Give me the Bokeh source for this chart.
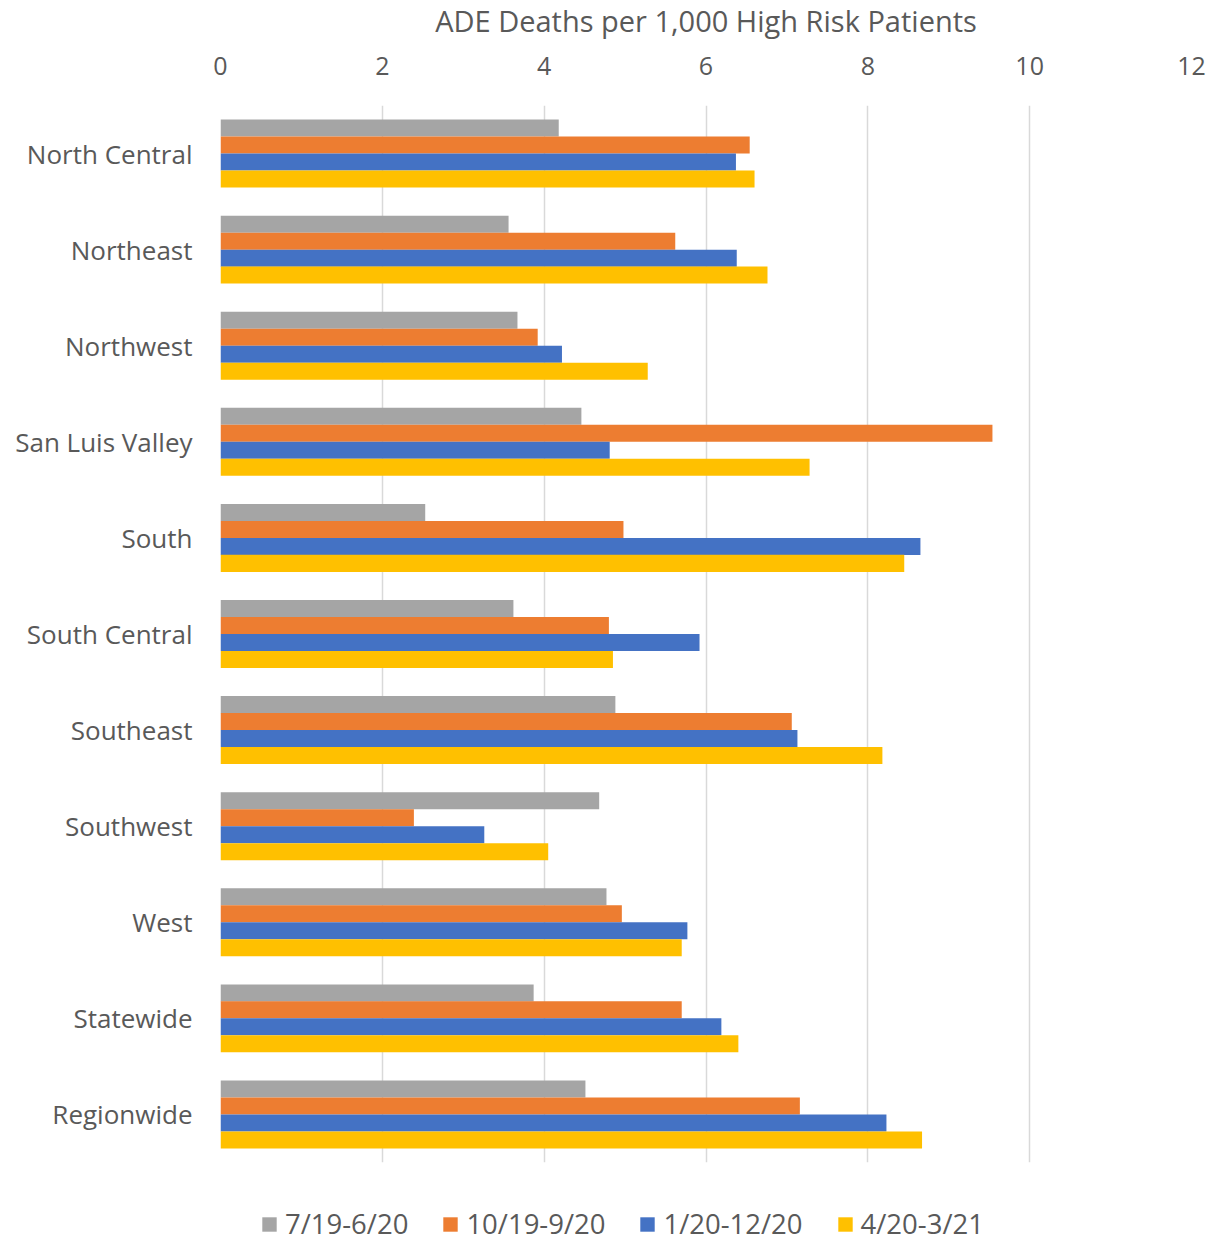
from bokeh.plotting import figure
from bokeh.models import FactorRange, Legend, LegendItem, FixedTicker, ColumnDataSource, Label
from bokeh.layouts import column
from bokeh.transform import dodge
from bokeh.embed import file_html
from bokeh.resources import INLINE

regions = ["North Central", "Northeast", "Northwest", "San Luis Valley", "South",
           "South Central", "Southeast", "Southwest", "West", "Statewide", "Regionwide"]
series_names = ["7/19-6/20", "10/19-9/20", "1/20-12/20", "4/20-3/21"]
s1 = [4.18, 3.56, 3.67, 4.46, 2.53, 3.62, 4.88, 4.68, 4.77, 3.87, 4.51]
s2 = [6.54, 5.62, 3.92, 9.54, 4.98, 4.80, 7.06, 2.39, 4.96, 5.70, 7.16]
s3 = [6.37, 6.38, 4.22, 4.81, 8.65, 5.92, 7.13, 3.26, 5.77, 6.19, 8.23]
s4 = [6.60, 6.76, 5.28, 7.28, 8.45, 4.85, 8.18, 4.05, 5.70, 6.40, 8.67]
x_ticks = [0, 2, 4, 6, 8, 10, 12]
axis_title = "ADE Deaths per 1,000 High Risk Patients"

colors = ["#A5A5A5", "#ED7D31", "#4472C4", "#FFC000"]
offsets = [0.265, 0.0885, -0.0885, -0.265]
FONT = "Open Sans"
TXT = "#595959"

src = ColumnDataSource(dict(region=regions, s1=s1, s2=s2, s3=s3, s4=s4))

# axis title strip (centred over the value axis)
tf = figure(width=1210, height=40, output_backend="svg", toolbar_location=None,
            x_range=(x_ticks[0], x_ticks[-1]), y_range=(0, 1), min_border=0)
tf.outline_line_color = None
tf.axis.visible = False
tf.grid.visible = False
tf.border_fill_color = "white"
tf.add_layout(Label(x=(x_ticks[0] + x_ticks[-1]) / 2, y=20, y_units="screen", text=axis_title,
                    text_font=FONT, text_font_size="29px", text_color=TXT,
                    text_align="center", text_baseline="middle"))

p = figure(width=1210, height=1148, output_backend="svg", toolbar_location=None,
           y_range=FactorRange(factors=list(reversed(regions))),
           x_range=(x_ticks[0], x_ticks[-1]), x_axis_location="above",
           min_border_left=220, min_border_right=19, min_border_top=65, min_border_bottom=26)
p.outline_line_color = None
p.background_fill_color = "white"
p.border_fill_color = "white"

for col, c, off in zip(["s1", "s2", "s3", "s4"], colors, offsets):
    p.hbar(y=dodge("region", off, range=p.y_range), left=0, right=col, height=0.177,
           source=src, fill_color=c, line_color=None)

xa = p.xaxis[0]
xa.ticker = FixedTicker(ticks=x_ticks)
xa.major_label_text_font = FONT
xa.major_label_text_font_size = "25px"
xa.major_label_text_color = TXT
xa.major_label_standoff = 25
xa.axis_line_color = None
xa.major_tick_line_color = None
xa.minor_tick_line_color = None

ya = p.yaxis[0]
ya.major_label_text_font = FONT
ya.major_label_text_font_size = "26px"
ya.major_label_text_color = TXT
ya.major_label_standoff = 22
ya.axis_line_color = None
ya.major_tick_line_color = None
ya.minor_tick_line_color = None

p.xgrid.grid_line_color = "#D9D9D9"
p.xgrid.grid_line_width = 1.5
p.ygrid.grid_line_color = None

# legend strip below the chart (proxy renderers are hidden; only their legend swatches show)
lg = figure(width=1210, height=54, output_backend="svg", toolbar_location=None,
            x_range=(0, 1), y_range=(0, 1), min_border=0)
lg.outline_line_color = None
lg.axis.visible = False
lg.grid.visible = False
lg.border_fill_color = "white"
lg_renderers = []
for vals, c in zip([s1, s2, s3, s4], colors):
    r = lg.hbar(y=0, left=0, right=vals, height=0.5, fill_color=c, line_color=None, visible=False)
    lg_renderers.append(r)

legend = Legend(items=[LegendItem(label=n, renderers=[r]) for n, r in zip(series_names, lg_renderers)],
                orientation="horizontal", location=(40, 0))
legend.label_text_font = FONT
legend.label_text_font_size = "27.5px"
legend.label_text_color = TXT
legend.glyph_width = 18
legend.glyph_height = 18
legend.label_height = 36
legend.label_standoff = 7
legend.spacing = 33
legend.padding = 0
legend.margin = 0
legend.border_line_color = None
legend.background_fill_alpha = 0
legend.inactive_fill_alpha = 0
lg.add_layout(legend, "center")

layout = column(tf, p, lg, spacing=0)
open("out.html", "w").write(file_html(layout, INLINE))
